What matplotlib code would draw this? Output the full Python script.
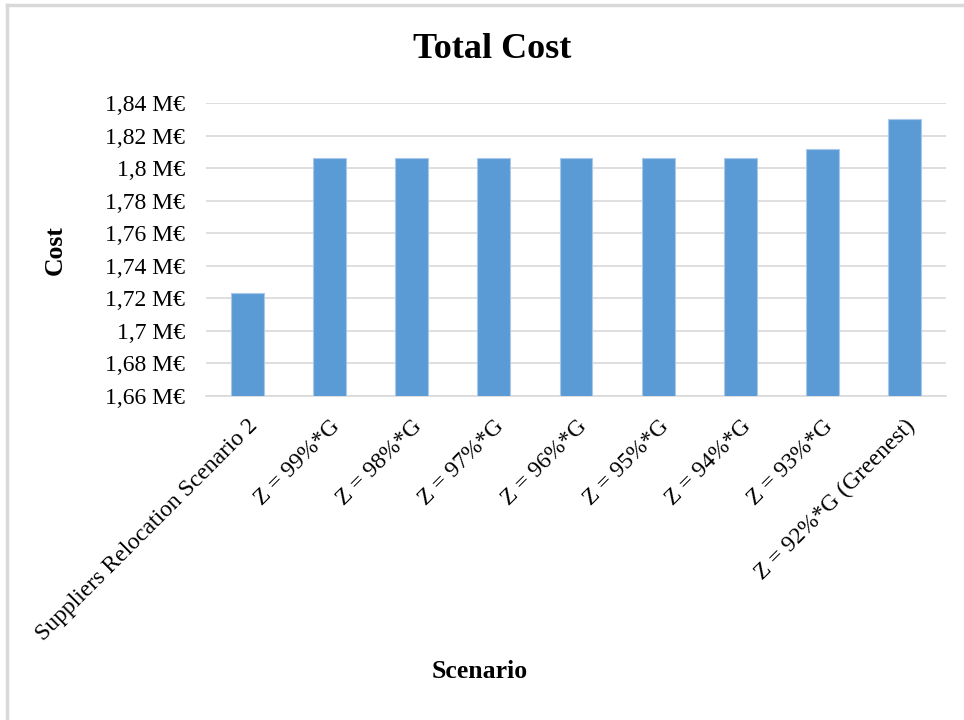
import matplotlib.pyplot as plt
from matplotlib.lines import Line2D
from matplotlib.ticker import FuncFormatter

plt.rcParams['font.family'] = ['Liberation Serif', 'DejaVu Serif']

scenarios = ['Suppliers Relocation Scenario 2', 'Z = 99%*G', 'Z = 98%*G', 'Z = 97%*G',
             'Z = 96%*G', 'Z = 95%*G', 'Z = 94%*G', 'Z = 93%*G', 'Z = 92%*G (Greenest)']
cost = [1.7232, 1.8062, 1.8062, 1.8062, 1.8062, 1.8062, 1.8062, 1.8120, 1.8299]  # M€
yticks = [1.66, 1.68, 1.70, 1.72, 1.74, 1.76, 1.78, 1.80, 1.82, 1.84]

fig = plt.figure(figsize=(9.64, 7.2), dpi=100)
ax = fig.add_axes([0.2137, 0.45, 0.9813 - 0.2137, 0.857 - 0.45])

x = range(len(scenarios))
ax.bar(x, cost, width=0.4, color='#5B9BD5', edgecolor='#A9C8EA', linewidth=0.8, zorder=3)

ax.set_ylim(1.66, 1.84)
ax.set_xlim(-0.5, len(scenarios) - 0.5)
ax.set_yticks(yticks)
ax.yaxis.set_major_formatter(FuncFormatter(lambda v, p: ('%g' % round(v, 2)).replace('.', ',') + ' M€'))
ax.grid(axis='y', color='#d9d9d9', linewidth=1.2, zorder=0)
for s in ['top', 'right', 'left']:
    ax.spines[s].set_visible(False)
ax.spines['bottom'].set_color('#d9d9d9')
ax.spines['bottom'].set_linewidth(1.2)
ax.tick_params(length=0, labelsize=17)
ax.tick_params(axis='x', pad=14)
ax.tick_params(axis='y', pad=15)
ax.set_xticks(list(x))
ax.set_xticklabels(scenarios, rotation=45, ha='right', rotation_mode='anchor')

fig.text(0.511, 0.931, 'Total Cost', ha='center', va='center', fontsize=26, fontweight='bold')
fig.text(0.0575, 0.652, 'Cost', ha='center', va='center', rotation=90, fontsize=18.5, fontweight='bold')
fig.text(0.498, 0.067, 'Scenario', ha='center', va='center', fontsize=18.5, fontweight='bold')

# light chart-area frame, only the left and top edges are visible
fig.add_artist(Line2D([7 / 964, 7 / 964], [0, 1 - 5 / 720], color='#d9d9d9', lw=2.5))
fig.add_artist(Line2D([7 / 964, 1], [1 - 5 / 720, 1 - 5 / 720], color='#d9d9d9', lw=2.5))

fig.savefig('out.png', dpi=100)
